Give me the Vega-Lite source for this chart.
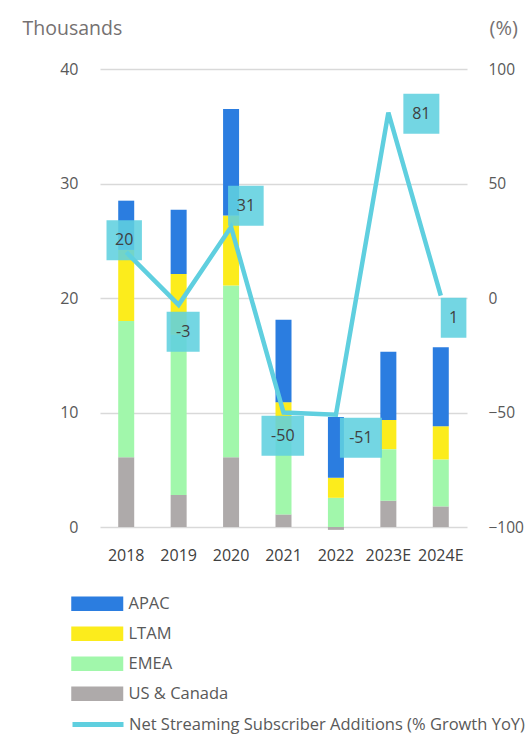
{
  "$schema": "https://vega.github.io/schema/vega-lite/v6.json",
  "width": 367,
  "height": 458,
  "autosize": {"type": "none"},
  "padding": {"left": 100, "top": 69, "right": 59, "bottom": 209},
  "config": {
    "font": "Open Sans",
    "view": {"stroke": null},
    "legend": {"padding": 0, "labelLimit": 0}
  },
  "datasets": {
    "regions": [
      {"year": "2018", "region": "US & Canada", "value": 6.1},
      {"year": "2018", "region": "EMEA", "value": 11.9},
      {"year": "2018", "region": "LTAM", "value": 6.2},
      {"year": "2018", "region": "APAC", "value": 4.3},
      {"year": "2019", "region": "US & Canada", "value": 2.8},
      {"year": "2019", "region": "EMEA", "value": 14.0},
      {"year": "2019", "region": "LTAM", "value": 5.3},
      {"year": "2019", "region": "APAC", "value": 5.6},
      {"year": "2020", "region": "US & Canada", "value": 6.1},
      {"year": "2020", "region": "EMEA", "value": 15.0},
      {"year": "2020", "region": "LTAM", "value": 6.1},
      {"year": "2020", "region": "APAC", "value": 9.3},
      {"year": "2021", "region": "US & Canada", "value": 1.1},
      {"year": "2021", "region": "EMEA", "value": 7.4},
      {"year": "2021", "region": "LTAM", "value": 2.4},
      {"year": "2021", "region": "APAC", "value": 7.2},
      {"year": "2022", "region": "US & Canada", "value": -0.25},
      {"year": "2022", "region": "EMEA", "value": 2.55},
      {"year": "2022", "region": "LTAM", "value": 1.75},
      {"year": "2022", "region": "APAC", "value": 5.3},
      {"year": "2023E", "region": "US & Canada", "value": 2.3},
      {"year": "2023E", "region": "EMEA", "value": 4.5},
      {"year": "2023E", "region": "LTAM", "value": 2.55},
      {"year": "2023E", "region": "APAC", "value": 5.95},
      {"year": "2024E", "region": "US & Canada", "value": 1.8},
      {"year": "2024E", "region": "EMEA", "value": 4.1},
      {"year": "2024E", "region": "LTAM", "value": 2.9},
      {"year": "2024E", "region": "APAC", "value": 6.9}
    ],
    "growth": [
      {"year": "2018", "growth": 20},
      {"year": "2019", "growth": -3},
      {"year": "2020", "growth": 31},
      {"year": "2021", "growth": -50},
      {"year": "2022", "growth": -51},
      {"year": "2023E", "growth": 81},
      {"year": "2024E", "growth": 1}
    ]
  },
  "layer": [
    {
      "data": {"name": "regions"},
      "transform": [
        {"calculate": "indexof(['US & Canada','EMEA','LTAM','APAC'], datum.region)", "as": "stackOrder"}
      ],
      "mark": {"type": "bar", "size": 16},
      "encoding": {
        "x": {
          "field": "year", "type": "nominal", "sort": null,
          "axis": {"title": null, "labelAngle": 0, "domain": false, "ticks": false, "labelPadding": 20, "labelFontSize": 16, "labelColor": "#404040", "grid": false}
        },
        "y": {
          "field": "value", "type": "quantitative", "stack": "zero",
          "scale": {"domain": [0, 40], "nice": false},
          "axis": {
            "title": "Thousands", "titleAngle": 0, "titleAlign": "left", "titleBaseline": "middle",
            "titleX": -78, "titleY": -41, "titleFontSize": 19.5, "titleFontWeight": "normal", "titleColor": "#757171",
            "values": [0, 10, 20, 30, 40], "domain": false, "ticks": false, "labelPadding": 22,
            "labelFontSize": 16, "labelColor": "#595959", "grid": true, "gridColor": "#d9d9d9", "gridWidth": 1.5
          }
        },
        "color": {
          "field": "region", "type": "nominal",
          "scale": {"domain": ["APAC", "LTAM", "EMEA", "US & Canada"], "range": ["#2b7de0", "#fcec1c", "#a1f7ab", "#aeaaaa"]},
          "legend": {
            "title": null, "orient": "none", "legendX": -29, "legendY": 526.5, "direction": "vertical",
            "symbolType": "M-1,-0.92H5.5V0.92H-1Z", "symbolSize": 256, "symbolStrokeWidth": 0, "symbolOpacity": 1,
            "labelFontSize": 16.5, "labelColor": "#595959", "labelOffset": 41, "rowPadding": 13, "labelLimit": 0
          }
        },
        "order": {"field": "stackOrder", "type": "quantitative"}
      }
    },
    {
      "data": {"name": "growth"},
      "layer": [
        {
          "mark": {"type": "line", "strokeWidth": 4.5, "strokeJoin": "miter"},
          "encoding": {
            "x": {"field": "year", "type": "nominal", "sort": null},
            "y": {
              "field": "growth", "type": "quantitative",
              "scale": {"domain": [-100, 100], "nice": false},
              "axis": {
                "orient": "right", "title": "(%)", "titleAngle": 0, "titleAlign": "left", "titleBaseline": "middle",
                "titleX": 22, "titleY": -41, "titleFontSize": 20, "titleFontWeight": "normal", "titleColor": "#757171",
                "values": [-100, -50, 0, 50, 100], "domain": false, "ticks": false, "grid": false,
                "labelPadding": 21, "labelFontSize": 15.5, "labelColor": "#595959"
              }
            },
            "stroke": {
              "datum": "Net Streaming Subscriber Additions (% Growth YoY)",
              "scale": {"range": ["#5fcfdf"]},
              "legend": {
                "title": null, "orient": "none", "legendX": -30, "legendY": 645,
                "symbolType": "M-1,0H5.375", "symbolSize": 256, "symbolStrokeWidth": 5,
                "labelFontSize": 16.5, "labelColor": "#595959", "labelOffset": 38, "labelLimit": 0
              }
            }
          }
        },
        {
          "mark": {"type": "point", "filled": true, "size": 1600, "color": "#60d0df", "opacity": 0.88, "strokeWidth": 0},
          "encoding": {
            "x": {"field": "year", "type": "nominal", "sort": null},
            "y": {"field": "growth", "type": "quantitative"},
            "shape": {
              "field": "year", "type": "nominal",
              "scale": {
                "domain": ["2018", "2019", "2020", "2021", "2022", "2023E", "2024E"],
                "range": [
                  "M-0.985,-1.6H0.785V0.4H-0.985Z",
                  "M-0.6,0.35H1.05V2.35H-0.6Z",
                  "M-0.15,-2.065H1.63V-0.065H-0.15Z",
                  "M-1.1,0.165H1.03V2.165H-1.1Z",
                  "M0.2,0.145H2.3V2.145H0.2Z",
                  "M0.75,-0.94H2.55V1.06H0.75Z",
                  "M0,0.1H1.28V2.1H0Z"
                ]
              },
              "legend": null
            }
          }
        },
        {
          "transform": [{"filter": {"field": "year", "equal": "2018"}}],
          "mark": {"type": "text", "dx": -2, "dy": -12, "fontSize": 16, "color": "#404040"},
          "encoding": {"x": {"field": "year", "type": "nominal", "sort": null}, "y": {"field": "growth", "type": "quantitative"}, "text": {"field": "growth"}}
        },
        {
          "transform": [{"filter": {"field": "year", "equal": "2019"}}],
          "mark": {"type": "text", "dx": 4.5, "dy": 27, "fontSize": 16, "color": "#404040"},
          "encoding": {"x": {"field": "year", "type": "nominal", "sort": null}, "y": {"field": "growth", "type": "quantitative"}, "text": {"field": "growth"}}
        },
        {
          "transform": [{"filter": {"field": "year", "equal": "2020"}}],
          "mark": {"type": "text", "dx": 14.8, "dy": -21.3, "fontSize": 16, "color": "#404040"},
          "encoding": {"x": {"field": "year", "type": "nominal", "sort": null}, "y": {"field": "growth", "type": "quantitative"}, "text": {"field": "growth"}}
        },
        {
          "transform": [{"filter": {"field": "year", "equal": "2021"}}],
          "mark": {"type": "text", "dx": -0.7, "dy": 23.3, "fontSize": 16, "color": "#404040"},
          "encoding": {"x": {"field": "year", "type": "nominal", "sort": null}, "y": {"field": "growth", "type": "quantitative"}, "text": {"field": "growth"}}
        },
        {
          "transform": [{"filter": {"field": "year", "equal": "2022"}}],
          "mark": {"type": "text", "dx": 25, "dy": 22.9, "fontSize": 16, "color": "#404040"},
          "encoding": {"x": {"field": "year", "type": "nominal", "sort": null}, "y": {"field": "growth", "type": "quantitative"}, "text": {"field": "growth"}}
        },
        {
          "transform": [{"filter": {"field": "year", "equal": "2023E"}}],
          "mark": {"type": "text", "dx": 33, "dy": 1.2, "fontSize": 16, "color": "#404040"},
          "encoding": {"x": {"field": "year", "type": "nominal", "sort": null}, "y": {"field": "growth", "type": "quantitative"}, "text": {"field": "growth"}}
        },
        {
          "transform": [{"filter": {"field": "year", "equal": "2024E"}}],
          "mark": {"type": "text", "dx": 12.8, "dy": 22, "fontSize": 16, "color": "#404040"},
          "encoding": {"x": {"field": "year", "type": "nominal", "sort": null}, "y": {"field": "growth", "type": "quantitative"}, "text": {"field": "growth"}}
        }
      ]
    }
  ],
  "resolve": {"scale": {"y": "independent", "shape": "independent"}}
}
